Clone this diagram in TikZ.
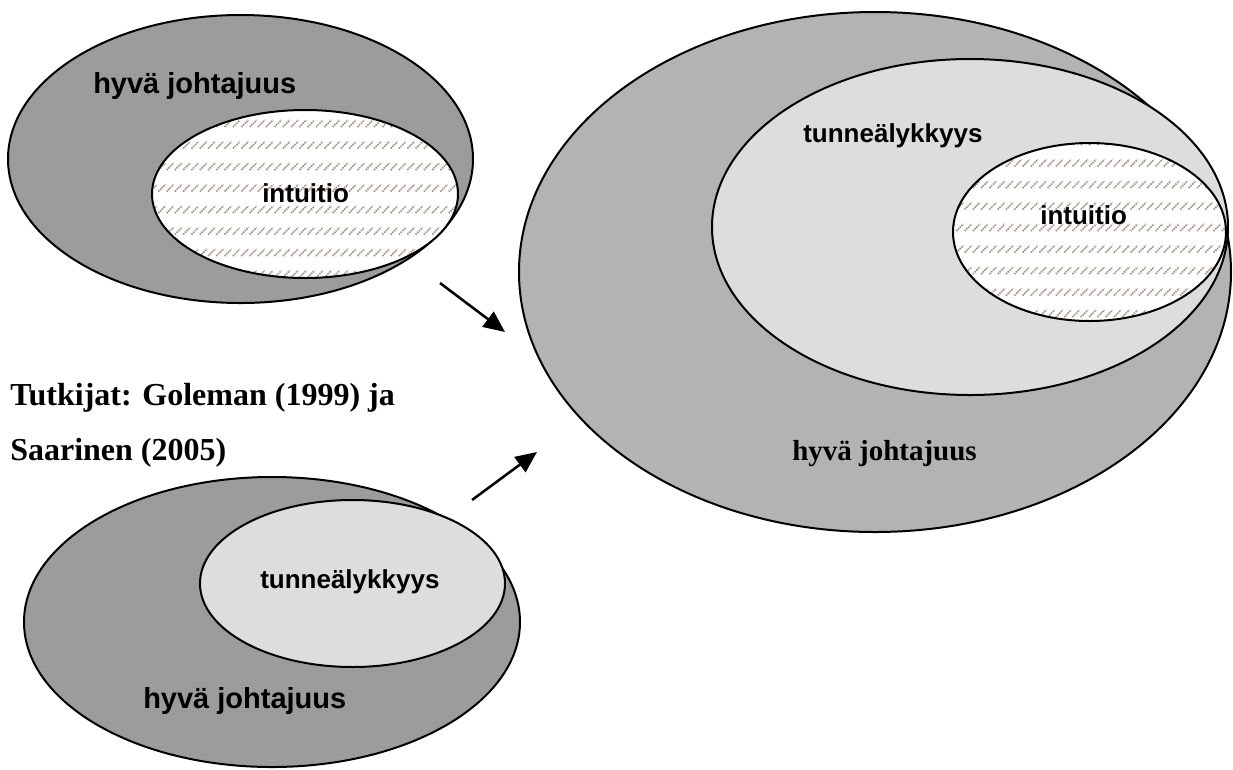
\documentclass[tikz,border=0pt]{standalone}
\usepackage{fontspec}
\setmainfont{Liberation Serif}
\newfontfamily\labelfont{Liberation Sans}
\usetikzlibrary{arrows.meta,patterns}
\definecolor{leadgray}{HTML}{9B9B9B}
\definecolor{leaddots}{HTML}{ABABAB}
\definecolor{biggray}{HTML}{B3B3B3}
\definecolor{eqgray}{HTML}{DDDDDD}
\definecolor{hatchc}{HTML}{A39286}
\tikzset{
  rim/.style={draw=black, line width=1.5pt},
  sanslabel/.style={font=\labelfont\bfseries\fontsize{19.5pt}{21pt}\selectfont, inner sep=0pt, anchor=base west},
  sansbig/.style={font=\labelfont\bfseries\fontsize{21.75pt}{24pt}\selectfont, inner sep=0pt, anchor=base west},
  seriflabel/.style={font=\bfseries\fontsize{24pt}{28pt}\selectfont, inner sep=0pt, anchor=base west},
  serifmid/.style={font=\bfseries\fontsize{21.75pt}{24pt}\selectfont, inner sep=0pt, anchor=base west},
  hatchline/.style={draw=hatchc, line width=1.3pt, dash pattern=on 1.1pt off 0.7pt},
  flowarrow/.style={line width=1.9pt, -{Triangle[length=16pt,width=14pt]}},
}
\begin{document}
\begin{tikzpicture}[x=0.75pt,y=-0.75pt]
\useasboundingbox (0,0) rectangle (1233,769);

% ---------- top left: leadership containing intuition ----------
\path[fill=leadgray, postaction={pattern=dots, pattern color=leaddots}]
  (240.5,159) ellipse [x radius=232.5, y radius=144];
\draw[rim] (240.5,159) ellipse [x radius=232.5, y radius=144];
\begin{scope}
  \clip (305,194) ellipse [x radius=153, y radius=84];
  \fill[white] (150,100) rectangle (460,290);
  \foreach \r in {0,...,8} {
    \foreach \c in {0,...,38} {
      \draw[hatchline] ({150+8.3*\c},{102+21.5*\r+3.5}) -- ++(7,-7);
    }
  }
\end{scope}
\draw[rim] (305,194) ellipse [x radius=153, y radius=84];
\node[sansbig] (lead1) at (93,93) {hyvä johtajuus};
\node[sanslabel] (intu1) at (262,202) {intuitio};

% ---------- right: combined view ----------
\draw[rim, fill=biggray] (875,272) ellipse [x radius=356, y radius=260];
\draw[rim, fill=eqgray] (970,227) ellipse [x radius=258, y radius=168];
\begin{scope}
  \clip (1089.5,232) ellipse [x radius=136.5, y radius=89];
  \fill[white] (950,140) rectangle (1230,325);
  \foreach \r in {0,...,9} {
    \foreach \c in {0,...,34} {
      \draw[hatchline] ({948+8.3*\c},{120+21.5*\r+3.5}) -- ++(7,-7);
    }
  }
\end{scope}
\draw[rim] (1089.5,232) ellipse [x radius=136.5, y radius=89];
\node[sanslabel] (eq2) at (803,142) {tunneälykkyys};
\node[sanslabel] (intu2) at (1040,224) {intuitio};
\node[serifmid] (lead2) at (792,460) {hyvä johtajuus};

% ---------- researchers ----------
\node[seriflabel] (src1) at (10,405) {Tutkijat: Goleman (1999) ja};
\node[seriflabel] (src2) at (10,460) {Saarinen (2005)};

% ---------- bottom left: leadership containing emotional intelligence ----------
\path[fill=leadgray, postaction={pattern=dots, pattern color=leaddots}]
  (272,622) ellipse [x radius=248, y radius=145];
\draw[rim] (272,622) ellipse [x radius=248, y radius=145];
\draw[rim, fill=eqgray] (352.5,583.5) ellipse [x radius=152.5, y radius=83.5];
\node[sanslabel] (eq3) at (260,588) {tunneälykkyys};
\node[sansbig] (lead3) at (143,708) {hyvä johtajuus};

% ---------- arrows into the combined view ----------
\coordinate (a1s) at (440,283);
\coordinate (a1e) at (505,332);
\coordinate (a2s) at (472,500);
\coordinate (a2e) at (537,452);
\draw[flowarrow] (a1s) -- (a1e);
\draw[flowarrow] (a2s) -- (a2e);
\end{tikzpicture}
\end{document}
